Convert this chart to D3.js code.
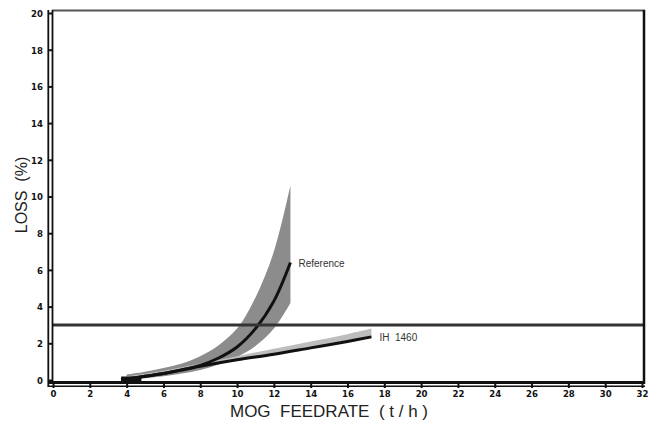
<!DOCTYPE html>
<html><head><meta charset="utf-8">
<script src="https://cdn.jsdelivr.net/npm/d3@7"></script>
<style>body{margin:0;background:#fff}svg{display:block}</style>
</head><body>
<script>
const xTicks = [0,2,4,6,8,10,12,14,16,18,20,22,24,26,28,30,32];
const yTicks = [0,2,4,6,8,10,12,14,16,18,20];
const refX = [3.7,4,5,6,7,8,9,10,11,12,12.9];
const refY = [0,0.05,0.2,0.35,0.55,0.8,1.2,1.8,2.8,4.3,6.4];
const refBandX = [4,5,6,7,8,9,10,11,12,12.9];
const refBandUpper = [0.3,0.45,0.65,0.9,1.3,1.9,2.8,4.5,7.0,10.6];
const refBandLower = [0,0.1,0.2,0.35,0.55,0.85,1.25,1.85,2.8,4.2];
const ihX = [3.7,5,6,8,10,12,14,16,17.3];
const ihY = [0,0.2,0.35,0.75,1.1,1.4,1.75,2.1,2.35];
const ihBandX = [4,6,8,10,12,14,16,17.3];
const ihBandUpper = [0.2,0.5,0.9,1.3,1.7,2.1,2.5,2.8];
const ihBandLower = [0.05,0.35,0.75,1.1,1.4,1.75,2.1,2.35];
const limitValue = 3;
const labels = [{text:"Reference", x:12.9, y:6.4},{text:"IH  1460", x:17.3, y:2.35}];

const W=652,H=422;
const svg=d3.select("body").append("svg").attr("width",W).attr("height",H);
const x=d3.scaleLinear().domain([0,32]).range([53,642]);
const y=d3.scaleLinear().domain([0,20]).range([380,13]);

// bands
const area=d3.area().x(d=>x(d[0])).y0(d=>y(d[1])).y1(d=>y(d[2])).curve(d3.curveCatmullRom);
svg.append("path").datum(refBandX.map((v,i)=>[v,refBandLower[i],refBandUpper[i]]))
  .attr("d",area).attr("fill","#8c8c8c");
svg.append("path").datum(ihBandX.map((v,i)=>[v,ihBandLower[i],ihBandUpper[i]]))
  .attr("d",area).attr("fill","#bdbdbd");
const line=d3.line().x(d=>x(d[0])).y(d=>y(d[1])).curve(d3.curveCatmullRom);
svg.append("path").datum(ihX.map((v,i)=>[v,ihY[i]])).attr("d",line)
  .attr("fill","none").attr("stroke","#111").attr("stroke-width",3);
svg.append("path").datum(refX.map((v,i)=>[v,refY[i]])).attr("d",line)
  .attr("fill","none").attr("stroke","#111").attr("stroke-width",3);
// thick base start
svg.append("line").attr("x1",x(3.7)).attr("x2",x(4.8)).attr("y1",y(0)-1).attr("y2",y(0)-1)
  .attr("stroke","#111").attr("stroke-width",5);

// limit line
svg.append("line").attr("x1",53).attr("x2",644).attr("y1",y(limitValue)).attr("y2",y(limitValue))
  .attr("stroke","#333").attr("stroke-width",3);

// frame
svg.append("line").attr("x1",52).attr("x2",645).attr("y1",10.5).attr("y2",10.5).attr("stroke","#555").attr("stroke-width",2);
svg.append("line").attr("x1",644).attr("x2",644).attr("y1",10).attr("y2",384).attr("stroke","#111").attr("stroke-width",2.5);
svg.append("line").attr("x1",48.3).attr("x2",48.3).attr("y1",10).attr("y2",387).attr("stroke","#111").attr("stroke-width",1.8);
svg.append("line").attr("x1",52.5).attr("x2",52.5).attr("y1",10).attr("y2",383).attr("stroke","#111").attr("stroke-width",1.8);
svg.append("line").attr("x1",48).attr("x2",645).attr("y1",382.5).attr("y2",382.5).attr("stroke","#111").attr("stroke-width",3);
svg.append("line").attr("x1",48).attr("x2",645).attr("y1",386.3).attr("y2",386.3).attr("stroke","#111").attr("stroke-width",1.4);

// axes
const xAxis=d3.axisBottom(x).tickValues(xTicks).tickSize(5).tickPadding(2).tickFormat(d3.format("d"));
const gx=svg.append("g").attr("transform","translate(0,383)").call(xAxis);
gx.select(".domain").remove();
gx.selectAll(".tick line").attr("stroke","#111").attr("stroke-width",2);
gx.selectAll("text").attr("font-family","DejaVu Sans Condensed").attr("font-weight","bold").attr("font-size",9.5).attr("fill","#111");
const yAxis=d3.axisLeft(y).tickValues(yTicks).tickSize(3).tickPadding(3).tickFormat(d3.format("d"));
const gy=svg.append("g").attr("transform","translate(49,0)").call(yAxis);
gy.select(".domain").remove();
gy.selectAll(".tick line").attr("stroke","#111").attr("stroke-width",2).attr("x2",3);
gy.selectAll("text").attr("font-family","DejaVu Sans Condensed").attr("font-weight","bold").attr("font-size",9.5).attr("fill","#111").attr("dy","0.35em");

// series labels
svg.selectAll(".lbl").data(labels).enter().append("text")
  .attr("x",d=>x(d.x)+8).attr("y",d=>y(d.y)+4)
  .attr("font-family","Liberation Sans, Arial, sans-serif").attr("font-size",10).attr("fill","#333")
  .style("white-space","pre").text(d=>d.text);

// titles
svg.append("text").attr("x",329).attr("y",417).attr("text-anchor","middle")
  .attr("font-family","Liberation Sans, Arial, sans-serif").attr("font-size",17).attr("fill","#222")
  .style("white-space","pre").text("MOG  FEEDRATE  ( t / h )");
svg.append("text").attr("transform","translate(27,195) rotate(-90)").attr("text-anchor","middle")
  .attr("font-family","Liberation Sans, Arial, sans-serif").attr("font-size",16).attr("fill","#222")
  .style("white-space","pre").text("LOSS  (%)");
</script>
</body></html>
